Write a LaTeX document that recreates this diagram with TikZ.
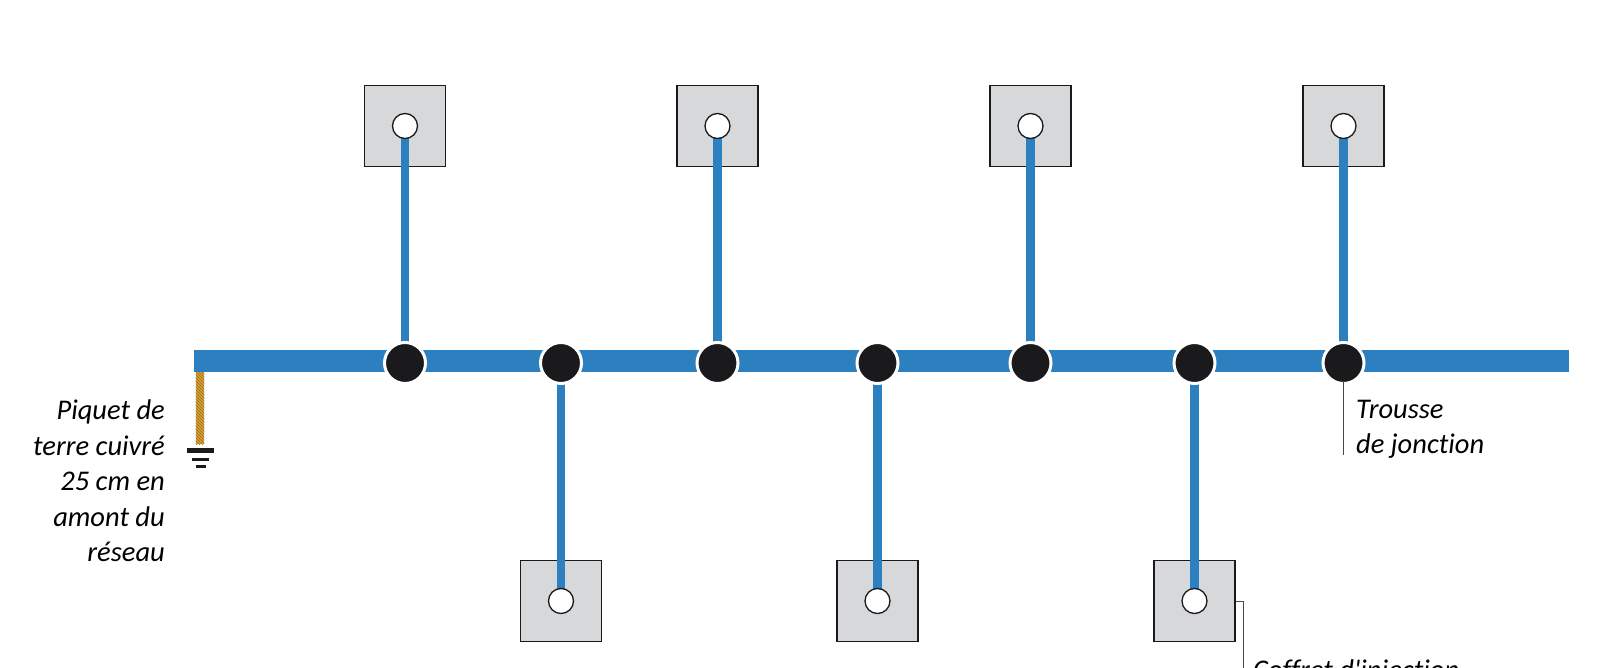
\documentclass[tikz,border=0pt]{standalone}
\usepackage{fontspec}
\setmainfont{Carlito}[Ligatures={NoCommon,TeXOff}]
\usetikzlibrary{patterns,positioning}
\definecolor{cable}{HTML}{2C80BF}
\definecolor{boxgrey}{HTML}{D7D8DA}
\definecolor{hubblack}{HTML}{1A1A1C}
\definecolor{copper}{HTML}{DDA233}
\tikzset{
  coffret/.style={draw=hubblack,fill=boxgrey,line width=1.3pt,minimum size=81pt,inner sep=0pt},
  borne/.style={circle,draw=hubblack,fill=white,line width=1.3pt,minimum size=25pt,inner sep=0pt},
  jonction/.style={circle,draw=white,fill=hubblack,line width=3pt,minimum size=41pt,inner sep=0pt},
  bus/.style={cable,line width=22pt},
  stub/.style={cable,line width=8.6pt},
  leader/.style={draw=hubblack!80,line width=0.8pt},
  legende/.style={inner sep=0pt,font=\fontsize{28.5}{35.5}\selectfont\itshape}
}
\begin{document}
\begin{tikzpicture}[x=1pt,y=-1pt]
    \useasboundingbox (0,0) rectangle (1620,668);
    \clip (0,0) rectangle (1620,668);
    % main cable
    \coordinate (busL) at (193.5,361);
    \coordinate (busR) at (1569,361);
    % copper stake and earth
    \node (piquet) [draw=none,fill=copper,minimum width=8.4pt,minimum height=72pt,inner sep=0pt] at (200,408) {};
    \fill [pattern=north west lines,pattern color=copper!65!black] (piquet.north west) rectangle (piquet.south east);
    \draw [bus] (busL) -- (busR);
    \node (terreA) [fill=hubblack,minimum width=27pt,minimum height=5pt,inner sep=0pt] at (200.5,450.5) {};
    \node (terreB) [fill=hubblack,minimum width=17pt,minimum height=2.6pt,inner sep=0pt] at (200.5,459.5) {};
    \node (terreC) [fill=hubblack,minimum width=10pt,minimum height=2.2pt,inner sep=0pt] at (200.5,466.5) {};
    % injection boxes, top row
    \node (coffretA) [coffret] at (405,126) {};
    \node (coffretC) [coffret] at (717.5,126) {};
    \node (coffretE) [coffret] at (1030.5,126) {};
    \node (coffretG) [coffret] at (1343.5,126) {};
    % injection boxes, bottom row
    \node (coffretB) [coffret] at (561,601) {};
    \node (coffretD) [coffret] at (877.5,601) {};
    \node (coffretF) [coffret] at (1194.5,601) {};
    % junctions on the cable
    \coordinate (hubA) at (405,363);
    \coordinate (hubB) at (561,363);
    \coordinate (hubC) at (717.5,363);
    \coordinate (hubD) at (877.5,363);
    \coordinate (hubE) at (1030.5,363);
    \coordinate (hubF) at (1194.5,363);
    \coordinate (hubG) at (1343.5,363);
    % branches
    \draw [stub] (hubA) -- (coffretA.center);
    \draw [stub] (hubB) -- (coffretB.center);
    \draw [stub] (hubC) -- (coffretC.center);
    \draw [stub] (hubD) -- (coffretD.center);
    \draw [stub] (hubE) -- (coffretE.center);
    \draw [stub] (hubF) -- (coffretF.center);
    \draw [stub] (hubG) -- (coffretG.center);
    \node (borneA) [borne] at (coffretA.center) {};
    \node (borneB) [borne] at (coffretB.center) {};
    \node (borneC) [borne] at (coffretC.center) {};
    \node (borneD) [borne] at (coffretD.center) {};
    \node (borneE) [borne] at (coffretE.center) {};
    \node (borneF) [borne] at (coffretF.center) {};
    \node (borneG) [borne] at (coffretG.center) {};
    \node (jonctionA) [jonction] at (hubA) {};
    \node (jonctionB) [jonction] at (hubB) {};
    \node (jonctionC) [jonction] at (hubC) {};
    \node (jonctionD) [jonction] at (hubD) {};
    \node (jonctionE) [jonction] at (hubE) {};
    \node (jonctionF) [jonction] at (hubF) {};
    \node (jonctionG) [jonction] at (hubG) {};
    % labels and leaders
    \coordinate (trousseEnd) at (1343.5,455);
    \draw [leader] ([yshift=4pt]jonctionG.south) -- (trousseEnd);
    \coordinate (coffretBend) at (1243,601);
    \coordinate (coffretEnd) at (1243,668);
    \draw [leader] (coffretF.east) -- (coffretBend) -- (coffretEnd);
    \node (piquetText) [legende,align=right,anchor=north east] at (165,400) {Piquet de\\terre cuivré\\25 cm en\\amont du\\réseau};
    \node (trousseText) [legende,align=left,anchor=north west] at (1356,400) {Trousse\\de jonction};
    \node (coffretText) [legende,anchor=base west] at (1253,679) {Coffret d'injection};
\end{tikzpicture}
\end{document}
